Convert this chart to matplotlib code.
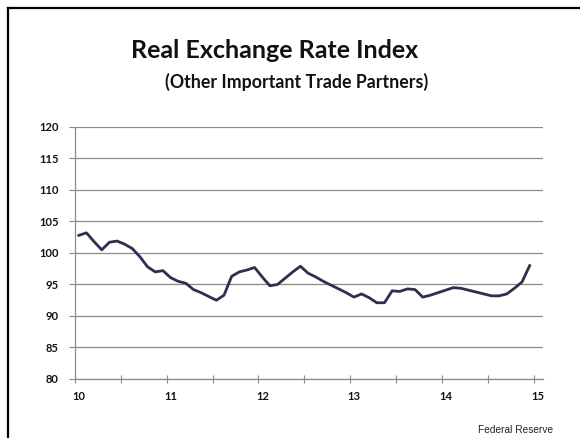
import numpy as np
import matplotlib
matplotlib.use("Agg")
import matplotlib.pyplot as plt
from matplotlib.lines import Line2D
from matplotlib.transforms import ScaledTranslation

# monthly index, Jan 2010 .. Dec 2014
index_vals = [102.8, 103.2, 101.8, 100.5, 101.7, 101.9, 101.4, 100.7, 99.4, 97.8,
              97.0, 97.2, 96.1, 95.5, 95.2, 94.2, 93.7, 93.1, 92.5, 93.3,
              96.3, 97.0, 97.3, 97.7, 96.2, 94.8, 95.0, 96.0, 97.0, 97.9,
              96.8, 96.2, 95.5, 94.9, 94.3, 93.7, 93.0, 93.5, 92.9, 92.1,
              92.1, 94.0, 93.9, 94.3, 94.2, 93.0, 93.3, 93.7, 94.1, 94.5,
              94.4, 94.1, 93.8, 93.5, 93.2, 93.2, 93.5, 94.4, 95.4, 98.0]
year_ticks = [10, 11, 12, 13, 14, 15]
year_labels = ["10", "11", "12", "13", "14", "15"]
y_ticks = [80, 85, 90, 95, 100, 105, 110, 115, 120]

months = 10 + (np.arange(len(index_vals)) + 0.5) / 12

fig = plt.figure(figsize=(5.8, 4.38), dpi=100)
fig.patch.set_facecolor("white")

# slide frame (left and top edges)
fig.add_artist(Line2D([7.5 / 580, 7.5 / 580], [0, 1 - 7.5 / 438], color="black", lw=1.6))
fig.add_artist(Line2D([7.5 / 580, 1], [1 - 7.5 / 438, 1 - 7.5 / 438], color="black", lw=1.6))

fig.text(0.474, 0.884, "Real Exchange Rate Index", ha="center", va="center",
         fontsize=18, fontweight="bold", family="Lato", color="#111111")
fig.text(0.511, 0.812, "(Other Important Trade Partners)", ha="center", va="center",
         fontsize=12.8, fontweight="bold", family="Lato", color="#111111")
fig.text(0.953, 0.018, "Federal Reserve", ha="right", va="center",
         fontsize=7.3, family="Liberation Sans", color="#222222")

ax = fig.add_axes([75 / 580, 1 - 379 / 438, (543 - 75) / 580, (379 - 127) / 438])
ax.plot(months, index_vals, color="#2b3050", lw=2.0, solid_joinstyle="round")

ax.set_xlim(10, 10 + (543 - 75) / 91.7)
ax.set_ylim(80, 120)
ax.set_yticks(y_ticks)
ax.set_xticks(year_ticks)
ax.set_xticklabels(year_labels)
ax.set_xticks(np.arange(10.5, 15, 1), minor=True)

ax.grid(axis="y", color="#8a8a8a", lw=0.9)
ax.set_axisbelow(True)
for side in ["top", "right"]:
    ax.spines[side].set_visible(False)
for side in ["left", "bottom"]:
    ax.spines[side].set_color("#8a8a8a")
    ax.spines[side].set_linewidth(0.9)

ax.tick_params(axis="both", which="both", color="#8a8a8a", width=0.8)
ax.tick_params(axis="x", which="both", direction="inout", length=6)
ax.tick_params(axis="y", length=4, pad=8)
ax.tick_params(axis="x", pad=6)
for lab in ax.get_xticklabels() + ax.get_yticklabels():
    lab.set_fontweight("bold")
    lab.set_fontsize(8)
    lab.set_family("Lato")
    lab.set_color("#111111")
shift = ScaledTranslation(4 / 100, 0, fig.dpi_scale_trans)
for lab in ax.get_xticklabels():
    lab.set_transform(lab.get_transform() + shift)

fig.savefig("out.png", dpi=100, facecolor="white")
